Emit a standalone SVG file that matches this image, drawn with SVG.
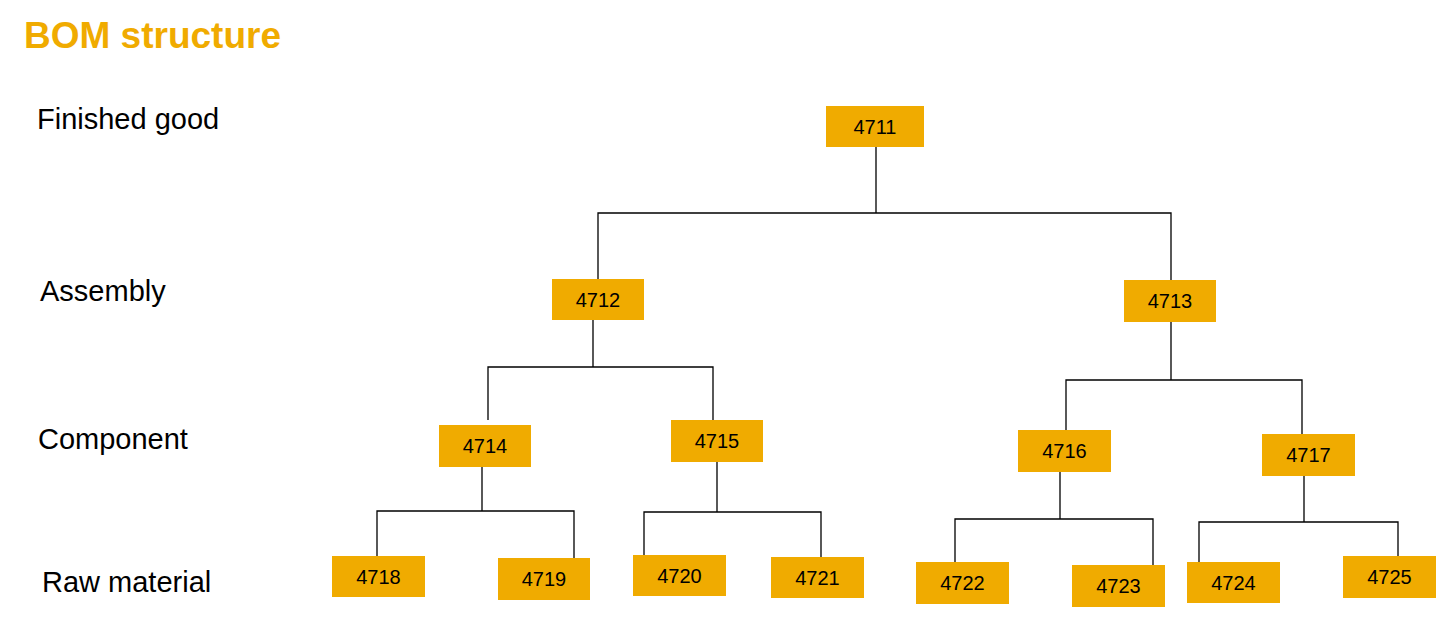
<svg xmlns="http://www.w3.org/2000/svg" width="1436" height="617" viewBox="0 0 1436 617">
<style>
.title{font-family:"Liberation Sans",Arial,sans-serif;font-weight:bold;font-size:37px;fill:#F0AB00}
.lvl{font-family:"Liberation Sans",Arial,sans-serif;font-size:29px;fill:#000}
.box{fill:#F0AB00}
.lbl{font-family:"Liberation Sans",Arial,sans-serif;font-size:20px;fill:#000;text-anchor:middle}
.con{fill:none;stroke:#000;stroke-width:1.3}
</style>
<rect width="1436" height="617" fill="#fff"/>
<text class="title" x="24" y="48">BOM structure</text>
<text class="lvl" x="37" y="129">Finished good</text>
<text class="lvl" x="40" y="301">Assembly</text>
<text class="lvl" x="38" y="449">Component</text>
<text class="lvl" x="42" y="592">Raw material</text>
<g id="connectors">
<path class="con" d="M876,147 V213 M598,279 V213 H1171 V280"/>
<path class="con" d="M593,320 V367 M488,420 V367 H713 V420"/>
<path class="con" d="M1171,322 V380 M1066,430 V380 H1302 V434"/>
<path class="con" d="M482,467 V511 M377,556 V511 H574 V558"/>
<path class="con" d="M717,462 V512 M644,555 V512 H821 V557"/>
<path class="con" d="M1060,472 V519 M955,562 V519 H1153 V565"/>
<path class="con" d="M1304,476 V522 M1199,562 V522 H1398 V556"/>
</g>
<g id="n4711"><rect class="box" x="826" y="106" width="98" height="41"/><text class="lbl" x="875" y="134">4711</text></g>
<g id="n4712"><rect class="box" x="552" y="279" width="92" height="41"/><text class="lbl" x="598" y="307">4712</text></g>
<g id="n4713"><rect class="box" x="1124" y="280" width="92" height="42"/><text class="lbl" x="1170" y="308">4713</text></g>
<g id="n4714"><rect class="box" x="439" y="425" width="92" height="42"/><text class="lbl" x="485" y="453">4714</text></g>
<g id="n4715"><rect class="box" x="671" y="420" width="92" height="42"/><text class="lbl" x="717" y="448">4715</text></g>
<g id="n4716"><rect class="box" x="1018" y="430" width="93" height="42"/><text class="lbl" x="1064.5" y="458">4716</text></g>
<g id="n4717"><rect class="box" x="1262" y="434" width="93" height="42"/><text class="lbl" x="1308.5" y="462">4717</text></g>
<g id="n4718"><rect class="box" x="332" y="556" width="93" height="41"/><text class="lbl" x="378.5" y="584">4718</text></g>
<g id="n4719"><rect class="box" x="498" y="558" width="92" height="42"/><text class="lbl" x="544" y="586">4719</text></g>
<g id="n4720"><rect class="box" x="633" y="555" width="93" height="41"/><text class="lbl" x="679.5" y="583">4720</text></g>
<g id="n4721"><rect class="box" x="771" y="557" width="93" height="41"/><text class="lbl" x="817.5" y="585">4721</text></g>
<g id="n4722"><rect class="box" x="916" y="562" width="93" height="42"/><text class="lbl" x="962.5" y="590">4722</text></g>
<g id="n4723"><rect class="box" x="1072" y="565" width="93" height="42"/><text class="lbl" x="1118.5" y="593">4723</text></g>
<g id="n4724"><rect class="box" x="1187" y="562" width="93" height="41"/><text class="lbl" x="1233.5" y="590">4724</text></g>
<g id="n4725"><rect class="box" x="1343" y="556" width="93" height="42"/><text class="lbl" x="1389.5" y="584">4725</text></g>
</svg>
